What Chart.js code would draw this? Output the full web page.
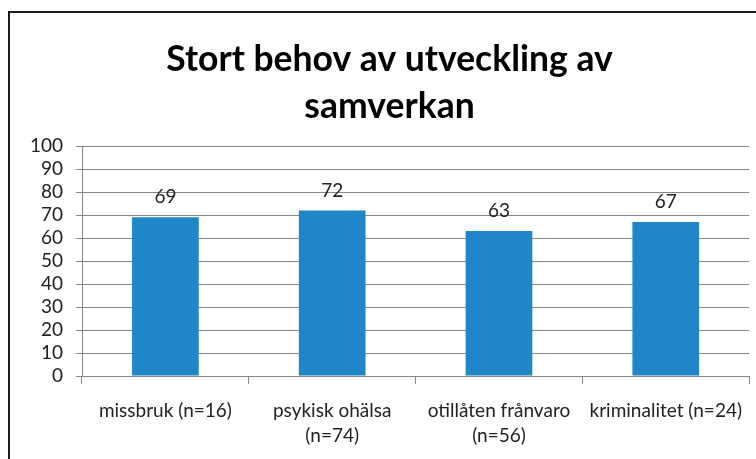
<!DOCTYPE html>
<html>
<head>
<meta charset="utf-8">
<script src="https://cdn.jsdelivr.net/npm/chart.js@4/dist/chart.umd.min.js"></script>
<style>
  html, body { margin: 0; padding: 0; background: #fff; overflow: hidden; }
  #wrap { position: relative; width: 756px; height: 459px; }
  #frame { position: absolute; left: 8px; top: 11px; width: 800px; height: 500px; border: 2px solid #1a1a1a; box-sizing: border-box; }
  canvas { position: absolute; left: 0; top: 0; }
</style>
</head>
<body>
<div id="wrap">
  <div id="frame"></div>
  <canvas id="myChart" width="756" height="459"></canvas>
</div>
<script>
// data
var titleLines = ['Stort behov av utveckling av', 'samverkan']
var categories = [
  ['missbruk (n=16)'],
  ['psykisk ohälsa', '(n=74)'],
  ['otillåten frånvaro', '(n=56)'],
  ['kriminalitet (n=24)']
]
var values = [69, 72, 63, 67]
var yMin = 0
var yMax = 100
var yStep = 10

var FONT = 'Lato, "Open Sans", sans-serif'

// value labels above each bar
var barLabels = {
  id: 'barLabels',
  afterDatasetsDraw: function(chart) {
    var ctx = chart.ctx
    var meta = chart.getDatasetMeta(0)
    ctx.save()
    ctx.font = '19px ' + FONT
    ctx.fillStyle = '#222'
    ctx.textAlign = 'center'
    ctx.textBaseline = 'middle'
    meta.data.forEach(function(bar, i) {
      ctx.fillText(values[i], bar.x, bar.y - 20)
    })
    ctx.restore()
  }
}

function start(){
  var ctx = document.getElementById('myChart').getContext('2d')
  var myChart = new Chart(ctx, {
    type: 'bar',
    data: {
      labels: categories,
      datasets: [{
        data: values,
        backgroundColor: '#1f86c8',
        borderWidth: 0,
        categoryPercentage: 1,
        barPercentage: 0.4
      }]
    },
    options: {
      responsive: false,
      animation: false,
      layout: { padding: { left: 22, right: -1, top: 0, bottom: -3 } },
      plugins: {
        legend: { display: false },
        tooltip: { enabled: false },
        title: {
          display: true,
          text: titleLines,
          color: '#000',
          font: { family: FONT, size: 35.5, weight: 'bold', lineHeight: '47px' },
          padding: { top: 36, bottom: 16 }
        }
      },
      scales: {
        x: {
          grid: { display: true, drawOnChartArea: false, color: '#868686', tickLength: 8 },
          border: { color: '#868686' },
          ticks: { color: '#222', font: { family: FONT, size: 19, lineHeight: '25px' }, padding: 14, maxRotation: 0, autoSkip: false }
        },
        y: {
          min: yMin,
          max: yMax,
          afterFit: function(scale) { scale.width = 60 },
          grid: { color: '#868686', tickLength: 6 },
          border: { color: '#868686' },
          ticks: { stepSize: yStep, autoSkip: false, color: '#222', font: { family: FONT, size: 19 }, padding: 13 }
        }
      }
    },
    plugins: [barLabels]
  })
}
start()
</script>
</body>
</html>
